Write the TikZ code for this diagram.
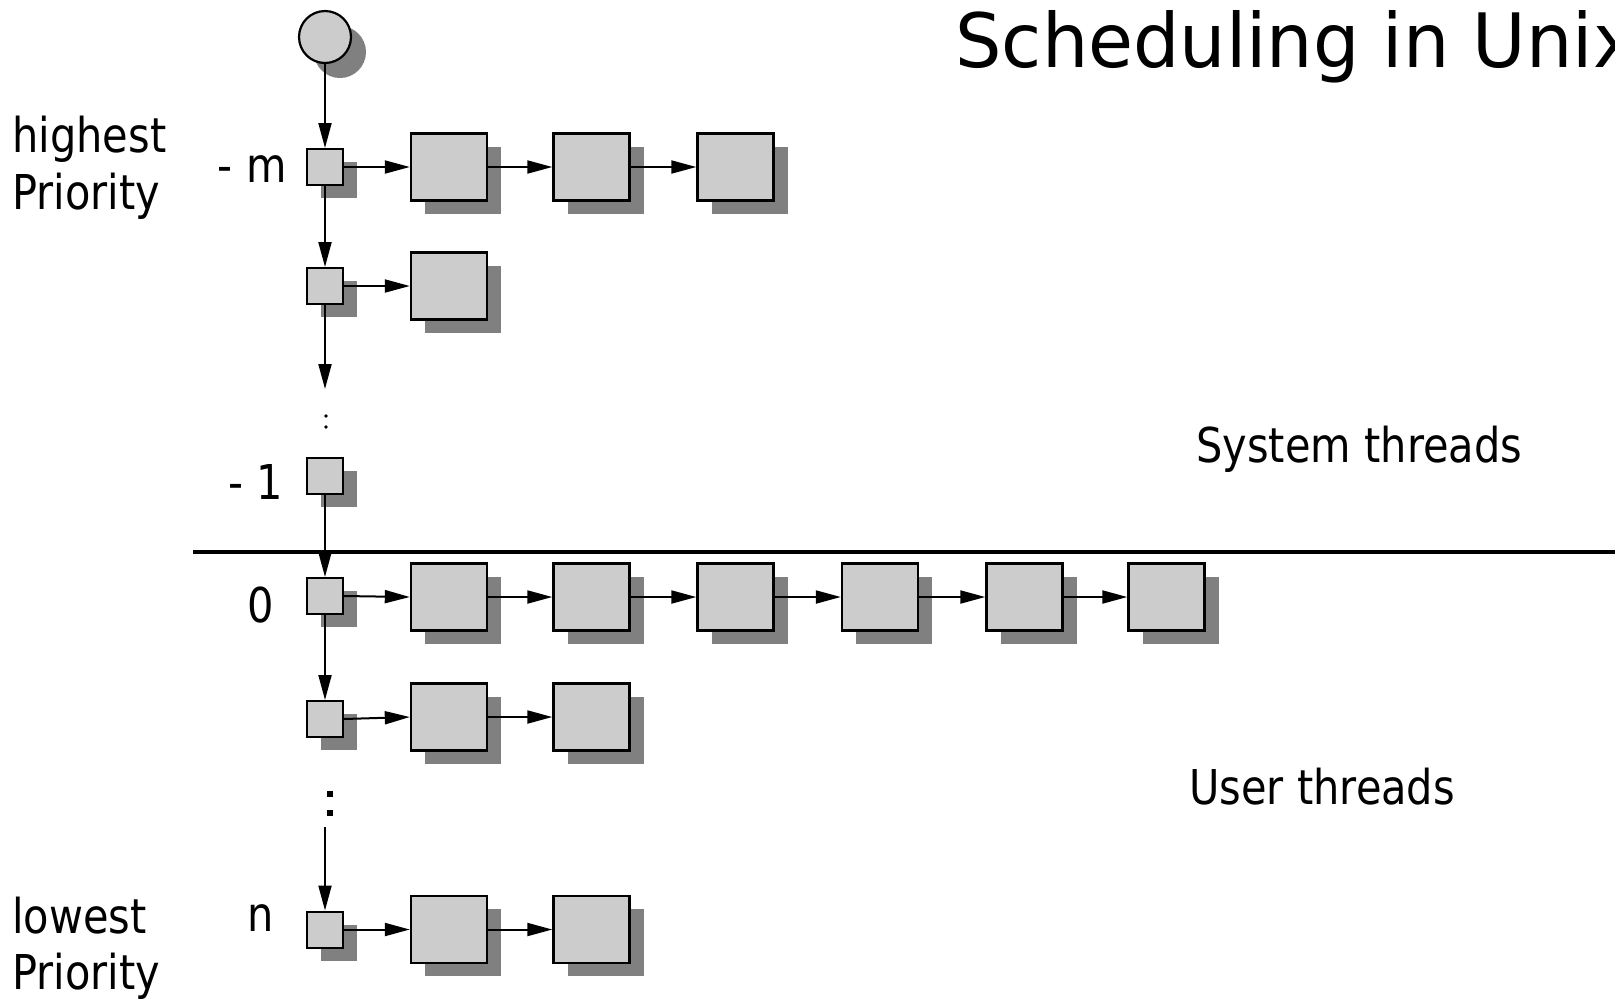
\documentclass[tikz,border=0pt]{standalone}
\usepackage{fontspec}
\setmainfont{DejaVu Sans}
\newfontfamily\lblfont[FakeStretch=0.865]{DejaVu Sans}
\newfontfamily\titlefont[FakeStretch=0.975]{DejaVu Sans}
\usetikzlibrary{arrows.meta,shadows}
\definecolor{boxgray}{HTML}{CCCCCC}
\definecolor{shadegray}{HTML}{808080}
\begin{document}
\begin{tikzpicture}[x=0.5pt,y=-0.5pt,
  shade/.style={drop shadow={shadow xshift=7pt,shadow yshift=-6.5pt,
      shadow scale=1,fill=shadegray,opacity=1}},
  headbox/.style={draw,line width=1pt,fill=boxgray,minimum size=18pt,
      inner sep=0pt,shade},
  threadbox/.style={draw,line width=1.2pt,fill=boxgray,minimum width=38pt,
      minimum height=33.5pt,inner sep=0pt,shade},
  startcircle/.style={circle,draw,line width=1.1pt,fill=boxgray,
      minimum size=26pt,inner sep=0pt,
      drop shadow={shadow xshift=7.5pt,shadow yshift=-7.5pt,
      shadow scale=1,fill=shadegray,opacity=1}},
  link/.style={line width=1pt,-{Triangle[length=12.5pt,width=6.5pt]}},
  lbl/.style={font=\lblfont\fontsize{24pt}{28pt}\selectfont,
      anchor=base west,inner sep=0pt},
  lvl/.style={lbl,anchor=base east},
  dotr/.style={fill,circle,inner sep=0pt,minimum size=1.8pt},
  dots/.style={fill,inner sep=0pt,minimum size=3pt}]
\useasboundingbox (0,0) rectangle (1615,998);
\begin{scope}
\clip (0,0) rectangle (1615,998);

% title
\node[anchor=base west,inner sep=0pt,font=\titlefont\fontsize{37.5pt}{44pt}\selectfont]
  (title) at (955,67) {Scheduling in Unix};

% separator between system and user levels
\draw[line width=2pt] (193,552) -- (1615,552);

% queue heads
\node[startcircle] (start) at (325,37) {};
\node[headbox] (hm) at (325,167) {};
\node[headbox] (h2) at (325,286) {};
\node[headbox] (h1) at (325,476) {};
\node[headbox] (h0) at (325,596) {};
\node[headbox] (h5) at (325,719) {};
\node[headbox] (hn) at (325,929.5) {};

% threads in each queue
\foreach \c/\x in {1/449,2/591.5,3/735.5} \node[threadbox] (m\c) at (\x,167) {};
\node[threadbox] (r1) at (449,286) {};
\foreach \c/\x in {1/449,2/591.5,3/735.5,4/880,5/1024.5,6/1166.5}
  \node[threadbox] (z\c) at (\x,597) {};
\foreach \c/\x in {1/449,2/591.5} \node[threadbox] (u\c) at (\x,717) {};
\foreach \c/\x in {1/449,2/591.5} \node[threadbox] (n\c) at (\x,929.5) {};

% vertical chain of queue heads
\coordinate (gapend) at (325,389);
\coordinate (gapstart) at (325,827);
\draw[link] (start.south) -- (hm.north);
\draw[link] (hm.south) -- (h2.north);
\draw[link] (h2.south) -- (gapend);
\draw[link] (h1.south) -- (h0.north);
\draw[link] (h0.south) -- (h5.north);
\draw[link] (gapstart) -- (hn.north);

% elided levels
\node[dotr] (da) at (326,416) {};
\node[dotr] (db) at (326,427) {};
\node[dots] (dc) at (329.5,793.5) {};
\node[dots] (dd) at (329.5,813) {};

% horizontal thread lists
\draw[link] (hm.east) -- (m1.west);
\draw[link] (m1.east) -- (m2.west);
\draw[link] (m2.east) -- (m3.west);
\draw[link] (h2.east) -- (r1.west);
\draw[link] (h0.east) -- (z1.west);
\foreach \a/\b in {1/2,2/3,3/4,4/5,5/6} \draw[link] (z\a.east) -- (z\b.west);
\draw[link] (h5.east) -- (u1.west);
\draw[link] (u1.east) -- (u2.west);
\draw[link] (hn.east) -- (n1.west);
\draw[link] (n1.east) -- (n2.west);

% level numbers
\node[lvl] (lm) at (287,182) {- m};
\node[lvl] (l1) at (283,499) {- 1};
\node[lvl] (l0) at (274,622) {0};
\node[lvl] (ln) at (274,931) {n};

% side labels
\node[lbl] (hi1) at (12,152) {highest};
\node[lbl] (hi2) at (12,209) {Priority};
\node[lbl] (lo1) at (12,933) {lowest};
\node[lbl] (lo2) at (12,989) {Priority};
\node[lbl] (sys) at (1196,462) {System threads};
\node[lbl] (usr) at (1189,804) {User threads};
\end{scope}
\end{tikzpicture}
\end{document}
